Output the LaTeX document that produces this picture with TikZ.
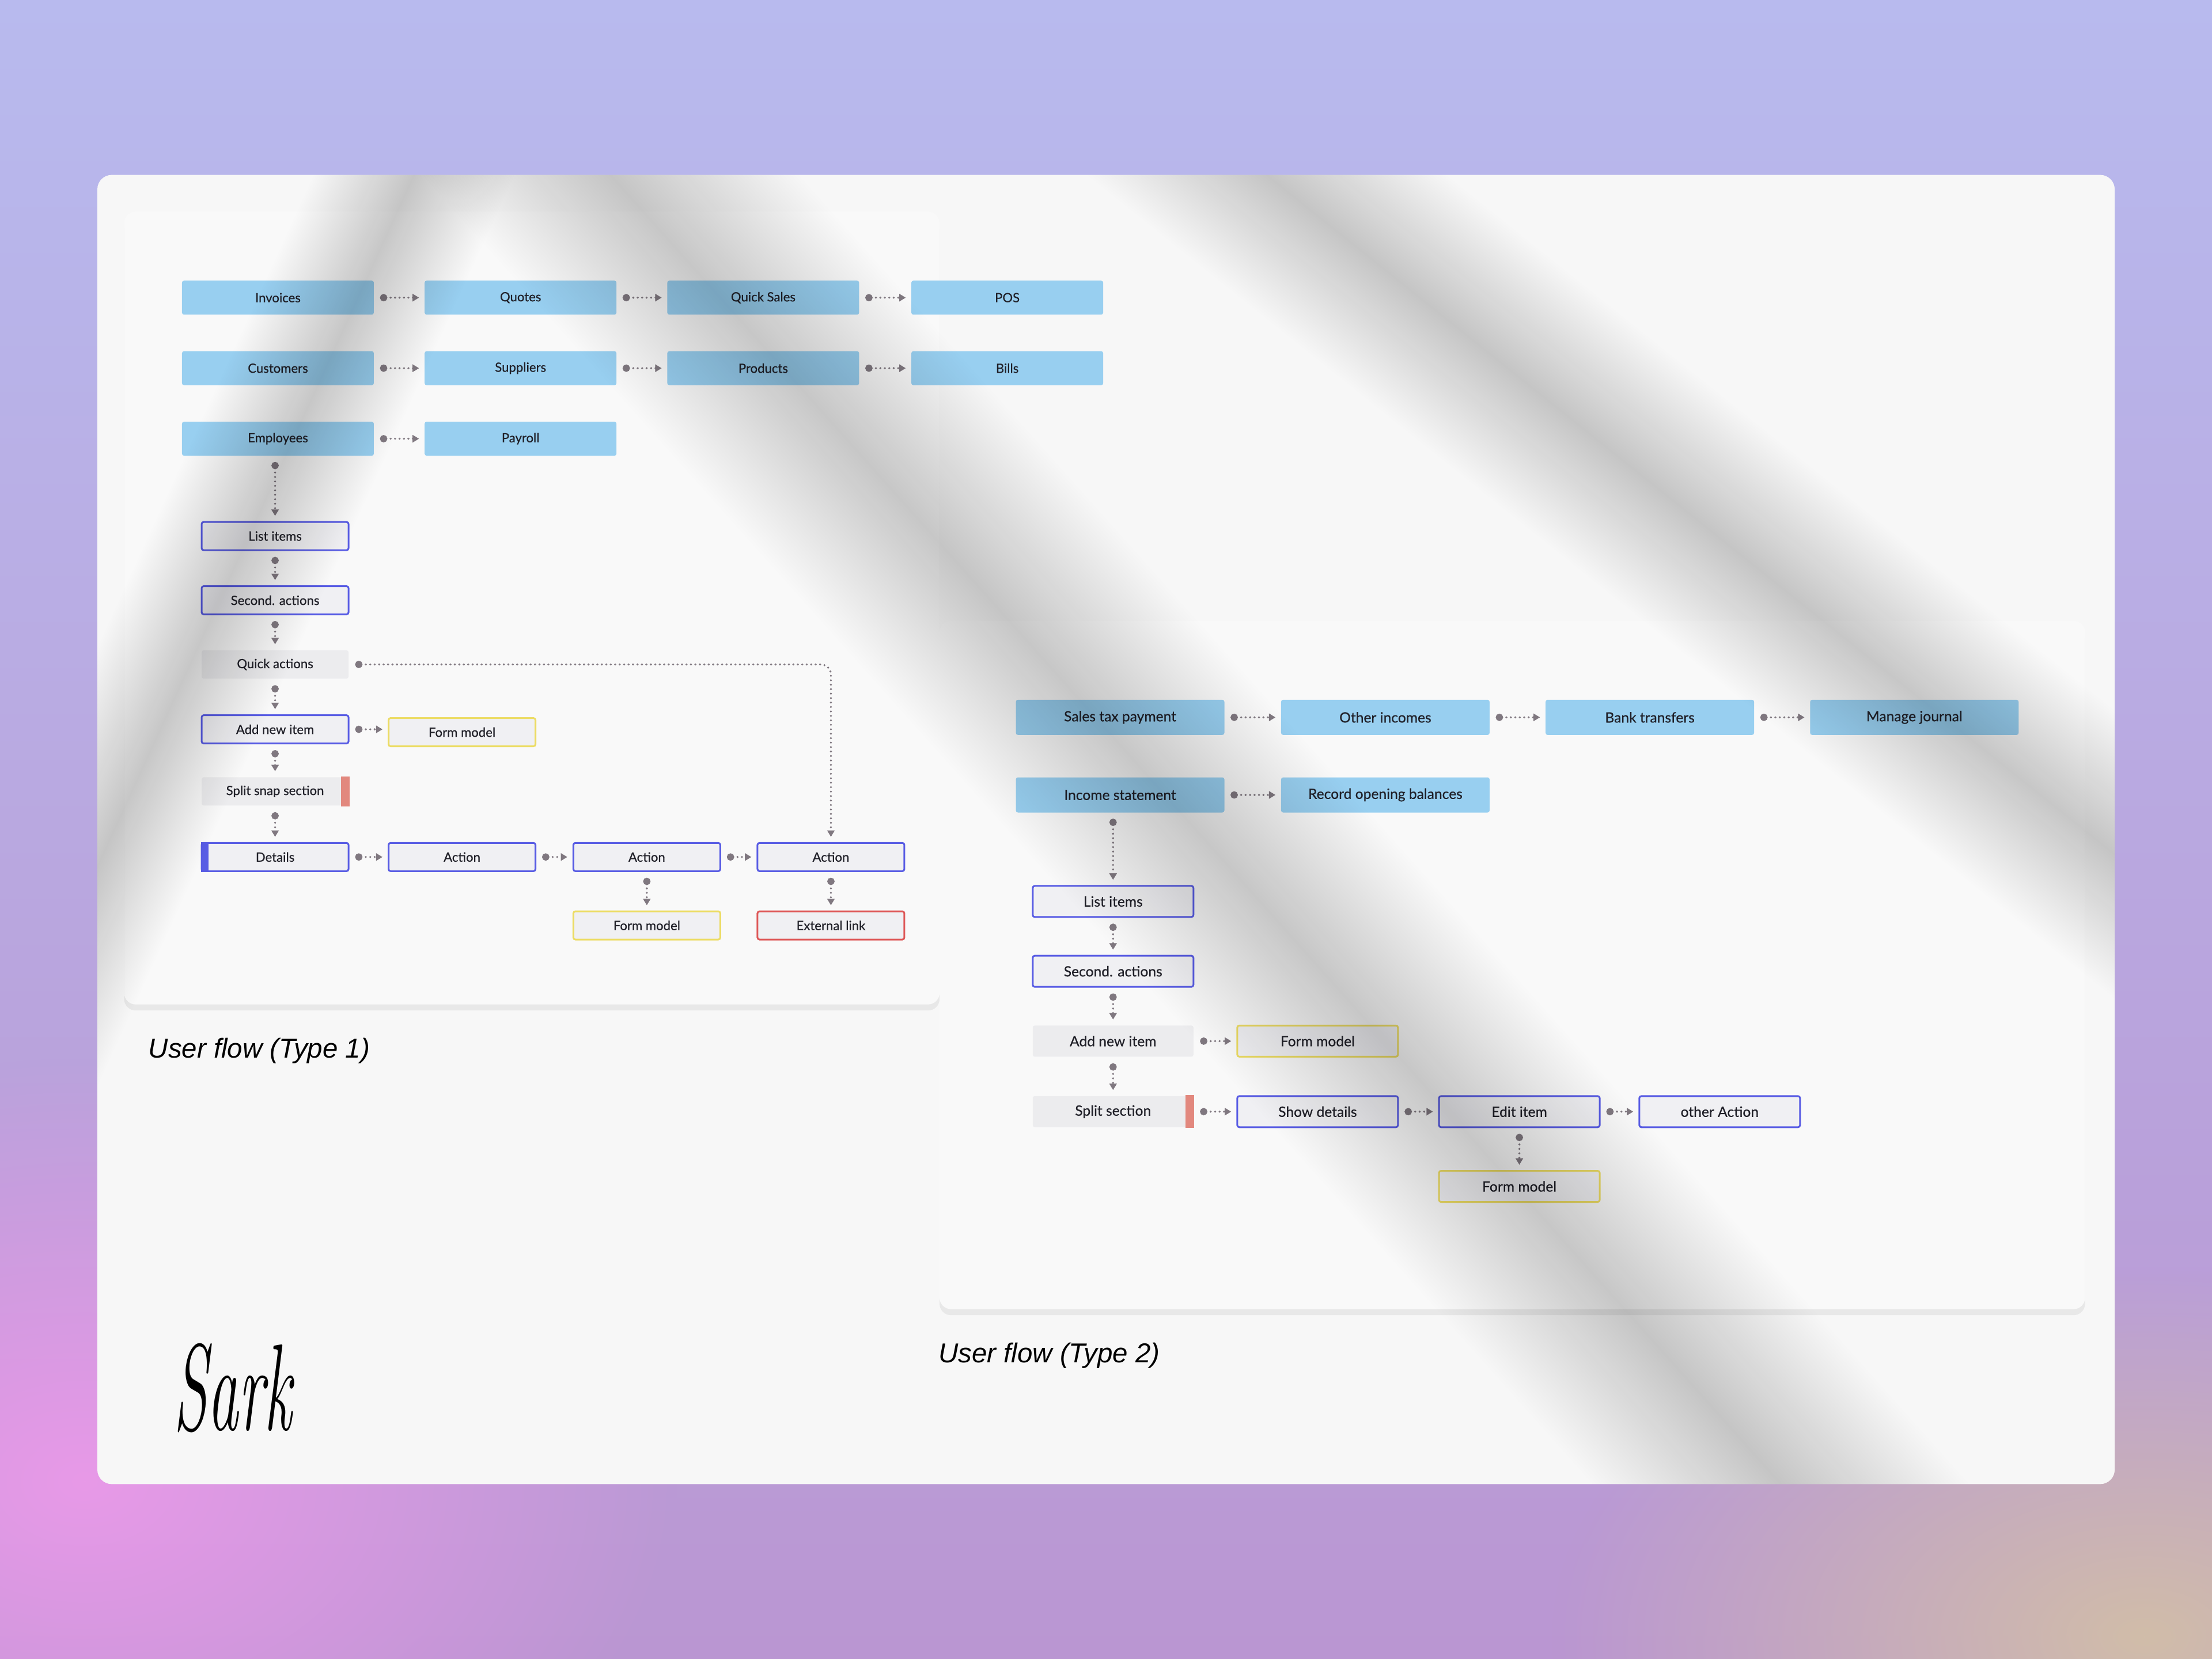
\documentclass[tikz,border=0pt]{standalone}
\usepackage{fontspec}
\setsansfont{Lato}[FakeBold=0.6]
\newfontfamily\capfont{Liberation Sans}
\usepackage{tikz}
\usetikzlibrary{arrows.meta, calc, positioning, shadows, fadings}
\definecolor{bgtop}{RGB}{184,186,238}
\definecolor{bgbot}{RGB}{186,150,210}
\definecolor{cardc}{RGB}{247,247,247}
\definecolor{panelc}{RGB}{249,249,249}
\definecolor{skyb}{RGB}{152,207,240}
\definecolor{indig}{RGB}{88,92,228}
\definecolor{boxg}{RGB}{240,240,243}
\definecolor{nobg}{RGB}{236,236,238}
\definecolor{yelc}{RGB}{236,220,100}
\definecolor{redc}{RGB}{222,88,88}
\definecolor{barr}{RGB}{226,136,126}
\definecolor{flowg}{RGB}{128,120,128}
\definecolor{ink}{RGB}{32,32,40}
\tikzfading[name=bandfade, top color=transparent!100, bottom color=transparent!100, middle color=transparent!0]
\tikzfading[name=blobfade, inner color=transparent!0, outer color=transparent!100]
\tikzstyle{bigb}=[rectangle, fill=skyb, rounded corners=1pt, inner sep=0pt, text=ink, font=\sffamily\fontsize{6.3}{7}\selectfont, minimum width=3.33cm, minimum height=0.59cm]
\tikzstyle{bigc}=[bigb, font=\sffamily\fontsize{7}{8}\selectfont, minimum width=3.62cm, minimum height=0.61cm]
\tikzstyle{boxb}=[rectangle, draw=indig, line width=0.85pt, fill=boxg, rounded corners=1pt, inner sep=0pt, text=ink, font=\sffamily\fontsize{6.3}{7}\selectfont, minimum width=2.55cm, minimum height=0.49cm]
\tikzstyle{boxc}=[boxb, font=\sffamily\fontsize{7}{8}\selectfont, minimum width=2.79cm, minimum height=0.54cm]
\tikzstyle{nobord}=[draw=none, fill=nobg]
\tikzstyle{yel}=[draw=yelc]
\tikzstyle{redl}=[draw=redc]
\tikzstyle{flow}=[draw=flowg, line width=1.1pt, line cap=round, dash pattern=on 0pt off 2.2pt, {Circle[length=3.6pt]}-{Triangle[length=3.2pt,width=3.6pt]}, shorten <=0.1cm, shorten >=0.09cm]
\tikzstyle{captext}=[anchor=west, inner sep=0pt, text=black, font=\capfont\itshape\fontsize{13.5}{16}\selectfont]

\begin{document}
\begin{tikzpicture}[x=0.02449cm, y=-0.02449cm]
\useasboundingbox (0,0) rectangle (1568,1176);
\shade[top color=bgtop, bottom color=bgbot] (0,0) rectangle (1568,1176);
\fill[violet!45!magenta!40, path fading=blobfade] (60,1050) ellipse (420 and 300);
\fill[brown!35!white!90!black, path fading=blobfade] (1520,1160) ellipse (420 and 260);
\fill[cardc, rounded corners=0.25cm] (69,124) rectangle (1499,1052);
\path[fill=panelc, rounded corners=0.2cm, drop shadow={opacity=0.12, shadow xshift=0pt, shadow yshift=-3pt}] (88,150) rectangle (666,712);
\path[fill=panelc, rounded corners=0.2cm, drop shadow={opacity=0.12, shadow xshift=0pt, shadow yshift=-3pt}] (666,440) rectangle (1478,928);

\tikzstyle{every node}=[bigb];
\node (inv) at (197,211){Invoices}; \node (quo) at (369,211){Quotes}; \node (qsal) at (541,211){Quick Sales}; \node (pos) at (714,211){POS};
\node (cus) at (197,261){Customers}; \node (sup) at (369,261){Suppliers}; \node (prod) at (541,261){Products}; \node (bills) at (714,261){Bills};
\node (emp) at (197,311){Employees}; \node (pay) at (369,311){Payroll};
\tikzstyle{every node}=[boxb];
\node (li1) at (195,380){List items};
\node (sa1) at (195,425.5){Second. actions};
\node [nobord] (qa1) at (195,471){Quick actions};
\node (ani1) at (195,517){Add new item};
\node [nobord] (sss1) at (195,561){Split snap section};
\node (det1) at (195,607.5){Details};
\node [yel] (fm1a) at (327.5,519){Form model};
\node (actA) at (327.5,607.5){Action}; \node (actB) at (458.5,607.5){Action}; \node (actC) at (589,607.5){Action};
\node [yel] (fm1b) at (458.5,656){Form model}; \node [redl] (ext) at (589,656){External link};
\fill [barr] ($(sss1.north east)+(-0.15cm,0)$) rectangle (sss1.south east);
\fill [indig] (det1.north west) rectangle ($(det1.south west)+(0.13cm,0)$);
\draw [flow] (inv) -- (quo); \draw [flow] (quo) -- (qsal); \draw [flow] (qsal) -- (pos);
\draw [flow] (cus) -- (sup); \draw [flow] (sup) -- (prod); \draw [flow] (prod) -- (bills);
\draw [flow] (emp) -- (pay);
\draw [flow] (li1 |- emp.south) -- (li1.north);
\draw [flow] (li1) -- (sa1); \draw [flow] (sa1) -- (qa1); \draw [flow] (qa1) -- (ani1); \draw [flow] (ani1) -- (sss1); \draw [flow] (sss1) -- (det1);
\draw [flow] (ani1) -- (ani1 -| fm1a.west);
\draw [flow] (det1) -- (actA); \draw [flow] (actA) -- (actB); \draw [flow] (actB) -- (actC);
\draw [flow] (actB) -- (fm1b); \draw [flow] (actC) -- (ext);
\draw [flow, rounded corners=5pt] (qa1.east) -| (actC.north);

\tikzstyle{every node}=[bigc];
\node (stp) at (794,508.5){Sales tax payment}; \node (oin) at (982,508.5){Other incomes}; \node (btr) at (1169.5,508.5){Bank transfers}; \node (mjo) at (1357,508.5){Manage journal};
\node (ist) at (794,563.5){Income statement}; \node (rob) at (982,563.5){Record opening balances};
\tikzstyle{every node}=[boxc];
\node (li2) at (789,639){List items};
\node (sa2) at (789,688.5){Second. actions};
\node [nobord] (ani2) at (789,738){Add new item};
\node [nobord] (ss2) at (789,788){Split section};
\node [yel] (fm2a) at (934,738){Form model};
\node (shd) at (934,788){Show details}; \node (edit) at (1077,788){Edit item}; \node (oact) at (1219,788){other Action};
\node [yel] (fm2b) at (1077,841){Form model};
\fill [barr] ($(ss2.north east)+(-0.15cm,0)$) rectangle (ss2.south east);
\draw [flow] (stp) -- (oin); \draw [flow] (oin) -- (btr); \draw [flow] (btr) -- (mjo);
\draw [flow] (ist) -- (rob);
\draw [flow] (li2 |- ist.south) -- (li2.north);
\draw [flow] (li2) -- (sa2); \draw [flow] (sa2) -- (ani2); \draw [flow] (ani2) -- (ss2);
\draw [flow] (ani2) -- (fm2a);
\draw [flow] (ss2) -- (shd); \draw [flow] (shd) -- (edit); \draw [flow] (edit) -- (oact);
\draw [flow] (edit) -- (fm2b);

\tikzstyle{every node}=[];
\node [captext] (cap1) at (105,745){User flow (Type 1)};
\node [captext] (cap2) at (665,961){User flow (Type 2)};
\node [text=black] (sig) at (165,984){\scalebox{0.95}[1.9]{\rmfamily\itshape\fontsize{32}{32}\selectfont Sark}};

\begin{scope}
\clip [rounded corners=0.25cm] (69,124) rectangle (1499,1052);
\foreach \bx/\by/\ba/\bl/\bw in {320/-2/-48.2/1700/100, 763/16/-38.7/1150/80, 362/-26/-114.6/850/65}{
\begin{scope}[transform canvas={shift={(\bx,\by)}, rotate=\ba}]
\fill [black, fill opacity=0.2, path fading=bandfade] (0,-\bw) rectangle (\bl,\bw);
\end{scope}
}
\end{scope}
\end{tikzpicture}
\end{document}
